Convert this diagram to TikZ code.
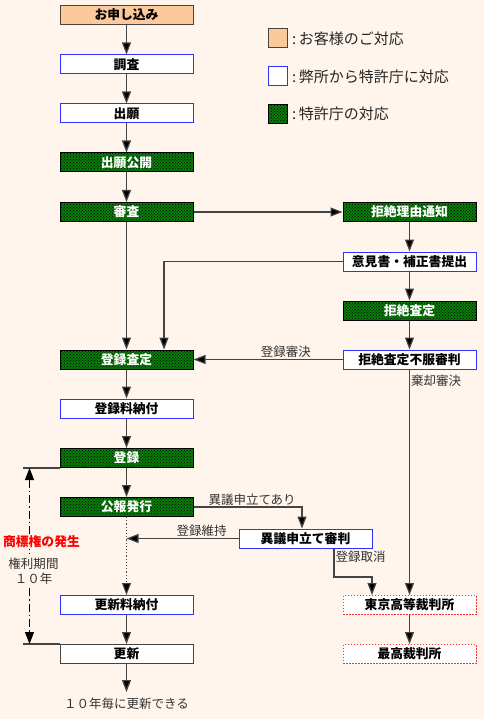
\documentclass[tikz,border=0pt]{standalone}
\usepackage{fontspec}
\setmainfont{Noto Sans CJK JP}
\usetikzlibrary{arrows.meta,patterns}
\definecolor{bg}{HTML}{FFF5EC}
\definecolor{org}{HTML}{FBC99A}
\definecolor{grn}{HTML}{0A7A0A}
\definecolor{bl}{HTML}{3030FF}
\definecolor{ln}{HTML}{444444}
\definecolor{rd}{HTML}{FF3333}
\begin{document}
\begin{tikzpicture}[x=1pt,y=-1pt,
 box/.style={minimum width=133pt,minimum height=19pt,inner sep=0pt,font=\fontsize{12.8}{14}\selectfont\bfseries,line width=1pt},
 cust/.style={box,fill=org,draw=ln},
 firm/.style={box,fill=white,draw=bl},
 jpo/.style={box,draw=black,text=white,preaction={fill=grn},pattern=crosshatch dots,pattern color=black},
 court/.style={box,fill=white,draw=rd,dash pattern=on 1.5pt off 1.5pt},
 plainbox/.style={box,fill=white,draw=ln},
 tip/.style={Triangle[length=12pt,width=9pt,fill=black]},
 arr/.style={draw=ln,line width=1.2pt,-{Triangle[length=12pt,width=9pt,fill=black]}},
 ln/.style={draw=ln,line width=1.2pt},
 lbl/.style={font=\fontsize{12.5}{14}\selectfont,text=black!80,inner sep=1pt},
 leg/.style={minimum width=19pt,minimum height=19pt,inner sep=0pt,line width=1pt},
 legtxt/.style={anchor=west,font=\fontsize{15}{17}\selectfont,text=black!85,inner sep=0pt},
]
\fill[bg] (0,0) rectangle (484,719);
\useasboundingbox (0,0) rectangle (484,719);

% legend
\node[leg,fill=org,draw=ln] (l1) at (277.5,38.5) {};
\node[legtxt] (t1) at (292,38.5) {:\,お客様のご対応};
\node[leg,fill=white,draw=bl] (l2) at (277.5,76.5) {};
\node[legtxt] (t2) at (292,76.5) {:\,弊所から特許庁に対応};
\node[leg,draw=black,preaction={fill=grn},pattern=crosshatch dots,pattern color=black] (l3) at (277.5,114) {};
\node[legtxt] (t3) at (292,114) {:\,特許庁の対応};

% left column
\node[cust] (apply) at (126.5,15) {お申し込み};
\node[firm] (chosa) at (126.5,64.5) {調査};
\node[firm] (shutsu) at (126.5,113.5) {出願};
\node[jpo] (kokai) at (126.5,162.5) {出願公開};
\node[jpo] (shinsa) at (126.5,212) {審査};
\node[jpo] (tsatei) at (126.5,359.5) {登録査定};
\node[firm] (ryokin) at (126.5,408.5) {登録料納付};
\node[jpo] (toroku) at (126.5,458) {登録};
\node[jpo] (koho) at (126.5,507) {公報発行};
\node[firm] (kryo) at (126.5,605) {更新料納付};
\node[plainbox] (koshin) at (126.5,654) {更新};

% right column
\node[jpo] (riyu) at (409.5,212) {拒絶理由通知};
\node[firm] (iken) at (409.5,261.5) {意見書・補正書提出};
\node[jpo] (ksatei) at (409.5,310.5) {拒絶査定};
\node[firm] (fufuku) at (409.5,359.5) {拒絶査定不服審判};
\node[court] (tokyo) at (409.5,605) {東京高等裁判所};
\node[court] (saiko) at (409.5,654) {最高裁判所};
\node[firm] (igi) at (305.5,538.5) {異議申立て審判};

% connectors
\draw[arr] (apply) -- (chosa);
\draw[arr] (chosa) -- (shutsu);
\draw[arr] (shutsu) -- (kokai);
\draw[arr] (kokai) -- (shinsa);
\draw[arr] (shinsa) -- (tsatei);
\draw[arr] (shinsa) -- (riyu);
\draw[arr] (riyu) -- (iken);
\draw[arr] (iken.west) -| ([xshift=37.5pt]tsatei.north);
\draw[arr] (iken) -- (ksatei);
\draw[arr] (ksatei) -- (fufuku);
\draw[arr] (fufuku) -- node[lbl,above,pos=0.38]{登録審決} (tsatei);
\draw[arr] (fufuku) -- node[lbl,anchor=west,pos=0.05]{棄却審決} (tokyo);
\draw[arr] (tsatei) -- (ryokin);
\draw[arr] (ryokin) -- (toroku);
\draw[arr] (toroku) -- (koho);
\draw[arr] (koho.east) -| node[lbl,above,pos=0.27]{異議申立てあり} ([xshift=-3.5pt]igi.north);
\draw[arr,dotted,line width=1pt] (koho) -- (kryo);
\coordinate (mid) at (koho.south |- igi.west);
\draw[arr] (igi.west) -- node[lbl,above,pos=0.33]{登録維持} (mid);
\coordinate (c1) at ([xshift=28.5pt]igi.south);
\coordinate (c2) at (334,577);
\coordinate (c3) at (372,577);
\draw[arr] (c1) -- node[lbl,anchor=west,pos=0.3]{登録取消} (c2) -- (c3) -- (c3 |- tokyo.north);
\draw[arr] (kryo) -- (koshin);
\draw[arr] (tokyo) -- (saiko);
\coordinate (endr) at (126.5,692);
\draw[arr] (koshin) -- (endr);
\node[lbl] (every) at (126.5,704) {１０年毎に更新できる};

% period bracket
\draw[ln] (toroku.south west) -- ++(-37pt,0) coordinate (ta);
\draw[ln] (koshin.north west) -- ++(-37pt,0) coordinate (tb);
\coordinate (da) at ([xshift=-30pt]toroku.south west);
\coordinate (db) at ([xshift=-30pt]koshin.north west);
\draw[draw=black,line width=1pt,dash pattern=on 8pt off 3pt on 1.5pt off 3pt,{Triangle[length=12pt,width=9pt,fill=black]}-{Triangle[length=12pt,width=9pt,fill=black]}] (da) -- (db);
\node[fill=bg,inner sep=1pt,text=red,font=\fontsize{12.8}{14}\selectfont\bfseries] (hassei) at (41.5,542) {商標権の発生};
\node[fill=bg,inner sep=1pt,align=center,text=black!80,font=\fontsize{12.5}{15}\selectfont] (kikan) at (33.5,571) {権利期間\\１０年};
\end{tikzpicture}
\end{document}
